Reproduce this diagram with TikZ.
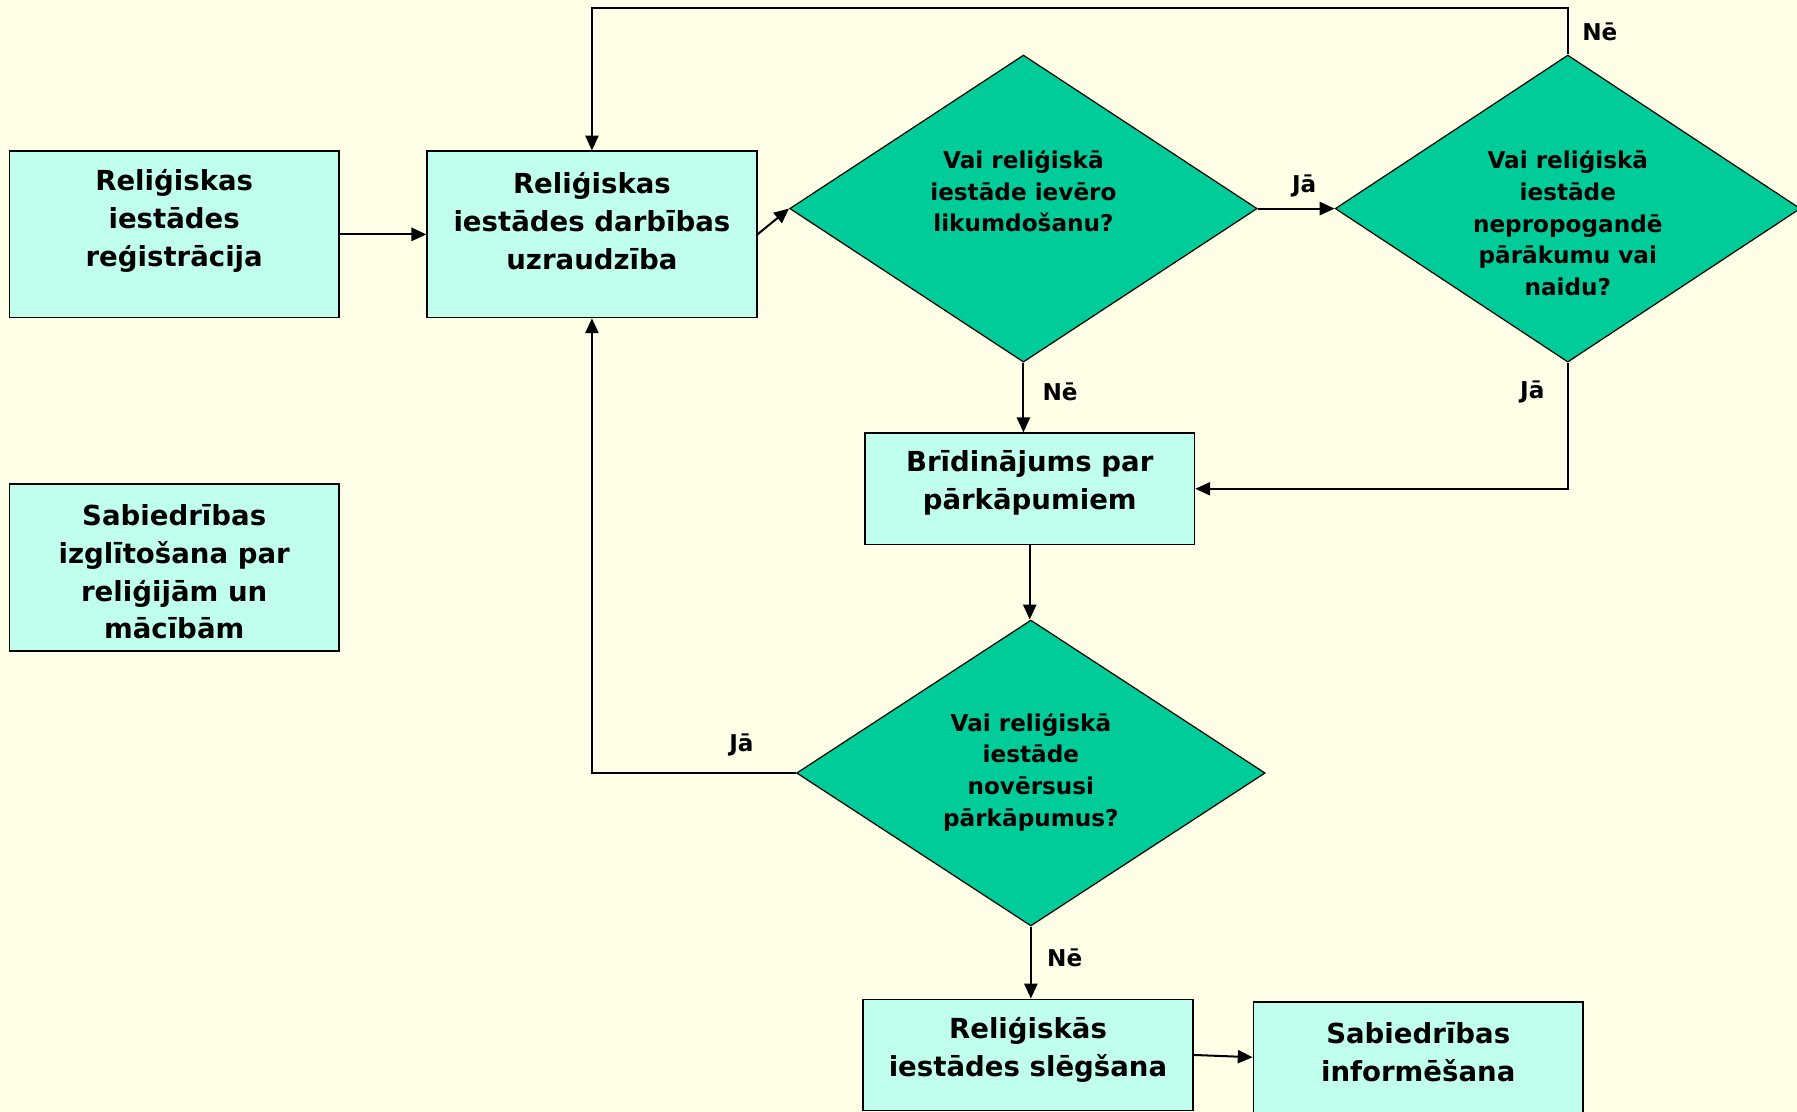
\documentclass[tikz,border=0pt]{standalone}
\usepackage{fontspec}
\setmainfont{DejaVu Sans}
\usetikzlibrary{shapes.geometric,arrows.meta,calc}
\definecolor{bgcol}{RGB}{255,255,232}
\definecolor{boxfill}{RGB}{192,255,238}
\definecolor{dfill}{RGB}{0,204,153}
\begin{document}
\begin{tikzpicture}[x=0.02cm,y=-0.02cm,
  procbox/.style={draw=black,line width=0.85pt,fill=boxfill,inner sep=0pt},
  bigbox/.style={procbox,minimum width=5.75cm,minimum height=2.9cm},
  smallbox/.style={procbox,minimum width=5.75cm,minimum height=1.94cm},
  decision/.style={diamond,draw=black,line width=0.6pt,fill=dfill,inner sep=0pt,minimum width=8.16cm,minimum height=5.36cm},
  boxtext/.style={align=center,font=\fontsize{13.7pt}{18.8pt}\selectfont\bfseries},
  dtext/.style={align=center,font=\fontsize{11.5pt}{15.8pt}\selectfont\bfseries},
  lbl/.style={font=\fontsize{11.5pt}{14pt}\selectfont\bfseries},
  arr/.style={line width=1.0pt,-{Triangle[length=0.26cm,width=0.23cm]}},
  plain/.style={line width=1.0pt}]
\fill[bgcol] (0,0) rectangle (1568,970);
\useasboundingbox (0,0) rectangle (1568,970);

% shapes
\node[bigbox] (b1) at (152,204.5) {};
\node[bigbox] (b2) at (516.5,204.5) {};
\node[decision] (d1) at (893,182) {};
\node[decision,minimum width=8.12cm] (d2) at (1368,182) {};
\node[smallbox] (b4) at (898.5,426.5) {};
\node[bigbox,minimum height=2.92cm] (b5) at (152,495) {};
\node[decision,minimum width=8.18cm,minimum height=5.34cm] (d3) at (899.5,674.5) {};
\node[smallbox] (b6) at (897,920.5) {};
\node[smallbox] (b7) at (1237.5,922.5) {};

% texts
\node[boxtext] (t1) at (152,193) {Reliģiskas\\iestādes\\reģistrācija};
\node[boxtext] (t2) at (516.5,193) {Reliģiskas\\iestādes darbības\\uzraudzība};
\node[boxtext] (t4) at (898.5,421) {Brīdinājums par\\pārkāpumiem};
\node[boxtext] (t5) at (152,499) {Sabiedrības\\izglītošana par\\reliģijām un\\mācībām};
\node[boxtext] (t6) at (897,916) {Reliģiskās\\iestādes slēgšana};
\node[boxtext] (t7) at (1237.5,918) {Sabiedrības\\informēšana};
\node[dtext] (td1) at (893,167) {Vai reliģiskā\\iestāde ievēro\\likumdošanu?};
\node[dtext] (td2) at (1368,195) {Vai reliģiskā\\iestāde\\nepropogandē\\pārākumu vai\\naidu?};
\node[dtext] (td3) at (899.5,674) {Vai reliģiskā\\iestāde\\novērsusi\\pārkāpumus?};

% helper coordinates
\coordinate (topline) at (0,7);

% connectors
\draw[arr] (b1.east) -- (b2.west);
\draw[arr] (b2.east) -- (d1.west);
\draw[arr] (d1.east) -- (d2.west);
\draw[arr] (d2.north) -- (d2.north |- topline) -| (b2.north);
\draw[arr] (d1.south) -- (d1.south |- b4.north);
\draw[arr] (d2.south) |- (b4.east);
\draw[arr] (b4.south) -- (b4.south |- d3.north);
\draw[arr] (d3.west) -| (b2.south);
\draw[arr] (d3.south) -- (d3.south |- b6.north);
\draw[arr] (b6.east) -- (b7.west);

% labels
\node[lbl] (l1) at (1138,162) {Jā};
\node[lbl] (l2) at (1396,28) {Nē};
\node[lbl] (l3) at (925,342) {Nē};
\node[lbl] (l4) at (1337,342) {Jā};
\node[lbl] (l5) at (647,650) {Jā};
\node[lbl] (l6) at (929,836) {Nē};
\end{tikzpicture}
\end{document}
